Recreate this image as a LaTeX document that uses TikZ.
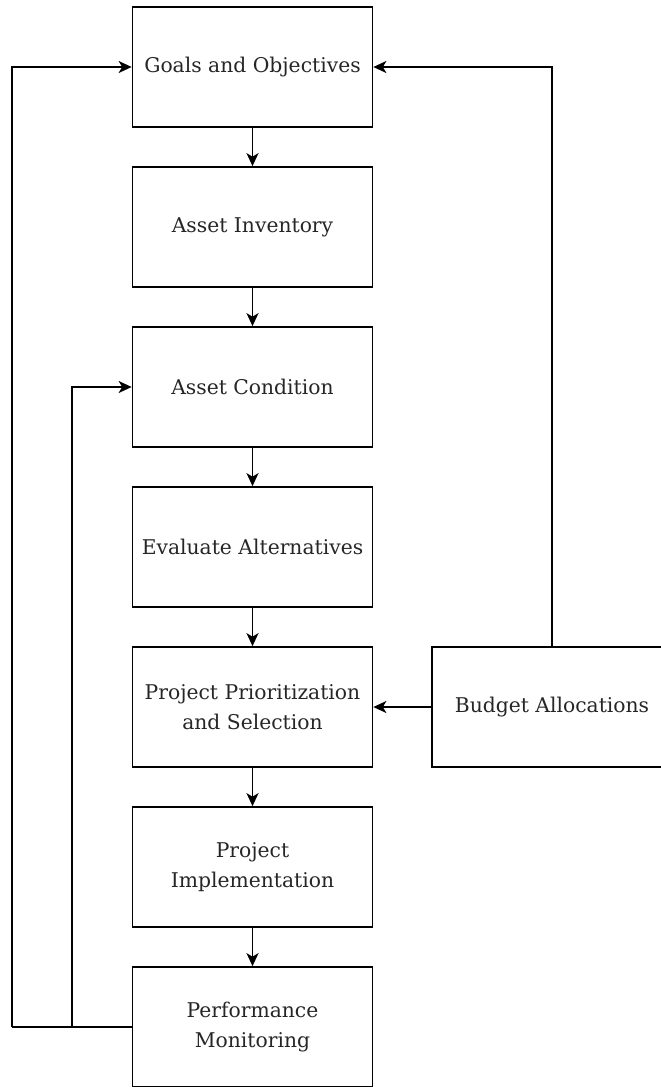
\documentclass[tikz,border=0pt]{standalone}
\usepackage{fontspec}
\setmainfont{DejaVu Serif}
\usetikzlibrary{arrows.meta,positioning}
\begin{document}
\begin{tikzpicture}[x=1pt,y=-1pt,
  stepbox/.style={draw, line width=1.7pt, minimum width=240pt, minimum height=120pt,
    inner sep=0pt, align=center, font=\fontsize{20.3}{30}\selectfont, text=black!85},
  flow/.style={line width=1.7pt, -{Stealth[length=13pt,width=12pt,inset=3.5pt]}},
  wire/.style={line width=1.7pt}]
\clip (0,0) rectangle (661,1087);
\node[stepbox] (goals) at (252.5,67) {Goals and Objectives};
\node[stepbox] (inv)   at (252.5,227) {Asset Inventory};
\node[stepbox] (cond)  at (252.5,387) {Asset Condition};
\node[stepbox] (eval)  at (252.5,547) {Evaluate Alternatives};
\node[stepbox] (prio)  at (252.5,707) {Project Prioritization\\and Selection};
\node[stepbox] (impl)  at (252.5,867) {Project\\Implementation};
\node[stepbox] (perf)  at (252.5,1027) {Performance\\Monitoring};
\node[stepbox] (budget) at (552,707) {Budget Allocations};
\coordinate (outer) at (12,1027);
\coordinate (inner) at (72,1027);
% main chain
\draw[flow] (goals) -- (inv);
\draw[flow] (inv) -- (cond);
\draw[flow] (cond) -- (eval);
\draw[flow] (eval) -- (prio);
\draw[flow] (prio) -- (impl);
\draw[flow] (impl) -- (perf);
% budget feeds
\draw[flow] (budget.west) -- (prio.east);
\draw[flow] (budget.north) |- (goals.east);
% feedback loops
\draw[wire] (perf.west) -- (outer);
\draw[flow] (outer) |- (goals.west);
\draw[flow] (inner) |- (cond.west);
\end{tikzpicture}
\end{document}
